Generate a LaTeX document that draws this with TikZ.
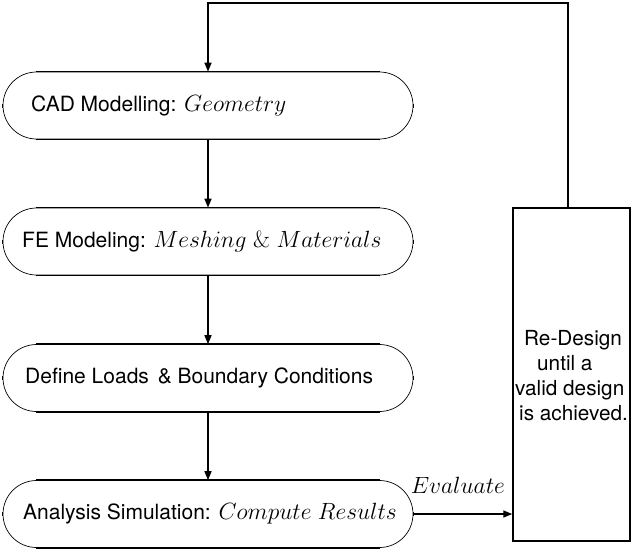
\RequirePackage{fix-cm}
\documentclass[tikz,border=0pt]{standalone}
\usepackage[no-math]{fontspec}
\setmainfont{TeX Gyre Heros}
\usetikzlibrary{shapes.misc,arrows.meta}
\newcommand\mth[1]{{\fontsize{23.5}{28}\selectfont$#1$}}
\newcommand\txtsize{\fontsize{21}{25}\selectfont}
\begin{document}
\begin{tikzpicture}[x=1pt,y=-1pt,
  stage/.style={rounded rectangle, draw, line width=0.7pt, minimum width=410pt, minimum height=67pt, inner sep=0pt},
  edgeline/.style={line width=1.5pt},
  flow/.style={line width=1.5pt, -{Triangle[length=9pt,width=7pt]}},
  lbl/.style={anchor=west, inner sep=0pt, font=\txtsize}]
\useasboundingbox (0,0) rectangle (631,551);
% stages
\node[stage] (b1) at (208,105.5) {};
\node[stage] (b2) at (208,241.5) {};
\node[stage] (b3) at (208,378) {};
\node[stage] (b4) at (208,514) {};
\foreach \b in {b1,b2,b3,b4}{
  \draw[edgeline] ([xshift=-172pt]\b.north) -- ([xshift=172pt]\b.north);
  \draw[edgeline] ([xshift=-172pt]\b.south) -- ([xshift=172pt]\b.south);
  \draw[edgeline] ([yshift=-2pt]\b.west) -- ([yshift=2pt]\b.west);
  \draw[edgeline] ([yshift=-2pt]\b.east) -- ([yshift=2pt]\b.east);
}
\node[lbl] (t1) at (31,105.5) {CAD Modelling: \mth{Geometry}};
\node[lbl] (t2) at (22,241.5) {FE Modeling: \mth{Meshing\ \&\ Materials}};
\node[lbl] (t3) at (25,378) {Define Loads\hspace{3pt} \& Boundary Conditions};
\node[lbl] (t4) at (23,514) {Analysis Simulation: \mth{Compute\ Results}};
% redesign box
\node[draw, edgeline, minimum width=117pt, minimum height=333pt, inner sep=0pt] (rd) at (571.5,374.5) {};
\node[anchor=north west, align=left, font=\huge, inner sep=0pt] (rt) at (515,330)
  {\hspace*{9pt}Re-Design\\\hspace*{22pt}until a\\valid design\\\hspace*{4pt}is achieved.};
% connectors
\draw[flow] (b1.south) -- (b2.north);
\draw[flow] (b2.south) -- (b3.north);
\draw[flow] (b3.south) -- (b4.north);
\draw[flow] (b4.east) -- node[above=20pt, inner sep=0pt, xshift=-5pt] (ev) {\mth{Evaluate}} (rd.west |- b4.east);
\draw[flow] ([xshift=-3.5pt]rd.north) -- ++(0,-204) -| (b1.north);
\end{tikzpicture}
\end{document}
